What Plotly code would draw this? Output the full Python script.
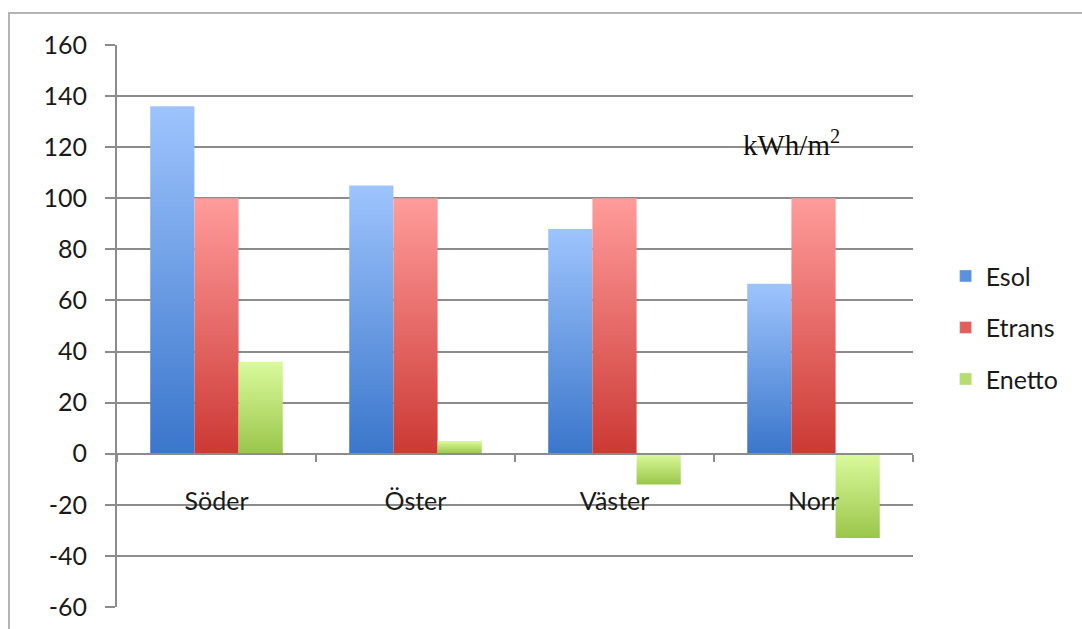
import plotly.graph_objects as go

# Energy balance per facade orientation (kWh/m2)
categories = ["Söder", "Öster", "Väster", "Norr"]
esol = [136, 105, 88, 66.5]
etrans = [100, 100, 100, 100]
enetto = [36, 5, -12, -33]
y_ticks = [-60, -40, -20, 0, 20, 40, 60, 80, 100, 120, 140, 160]

# name, values, bottom colour, top colour, legend colour
series = [
    ("Esol", esol, "#3a76cb", "#9ec4fd", "#5b90dd"),
    ("Etrans", etrans, "#cc3934", "#ff9c9b", "#e25f5c"),
    ("Enetto", enetto, "#9ac64a", "#dafa9c", "#b6dd6e"),
]

BAR_W = 0.222
GRID = "#8c8c8c"

fig = go.Figure()
for k, (name, vals, dark, light, mid) in enumerate(series):
    offset = (k - 1) * BAR_W
    for i, v in enumerate(vals):
        x0 = i + offset - BAR_W / 2
        x1 = i + offset + BAR_W / 2
        fig.add_trace(go.Scatter(
            x=[x0, x1, x1, x0, x0],
            y=[0, 0, v, v, 0],
            fill="toself",
            mode="lines",
            line=dict(width=0),
            fillgradient=dict(type="vertical", colorscale=[[0, dark], [1, light]]),
            showlegend=False,
            hoverinfo="skip",
            legendgroup=name,
        ))
    # legend entry for the series
    fig.add_trace(go.Bar(
        x=[None], y=[None], name=name, marker_color=mid,
        legendgroup=name, showlegend=True,
    ))

fig.update_layout(
    width=1082,
    height=629,
    autosize=False,
    margin=dict(l=117, r=169, t=45, b=22, autoexpand=False),
    paper_bgcolor="white",
    plot_bgcolor="white",
    font=dict(family="Lato", size=25, color="#1a1a1a"),
    showlegend=True,
    legend=dict(
        x=1.041, y=0.497, xanchor="left", yanchor="middle",
        font=dict(family="Lato", size=25, color="#1a1a1a"),
        tracegroupgap=16,
        bgcolor="rgba(0,0,0,0)",
    ),
    xaxis=dict(
        range=[-0.5, 3.5],
        tickmode="array",
        tickvals=list(range(len(categories))),
        ticktext=categories,
        ticks="",
        showgrid=False,
        zeroline=False,
        showline=True,
        linecolor=GRID,
        linewidth=2,
        anchor="free",
        position=60 / 220,
        ticklabelstandoff=25,
        automargin=False,
        minor=dict(
            tickmode="array",
            tickvals=[-0.5, 0.5, 1.5, 2.5, 3.5],
            ticks="outside",
            ticklen=7,
            tickwidth=2,
            tickcolor=GRID,
            showgrid=False,
        ),
        fixedrange=True,
    ),
    yaxis=dict(
        range=[-60, 160],
        tickmode="array",
        tickvals=y_ticks,
        ticktext=[str(v) for v in y_ticks],
        showgrid=True,
        gridcolor=GRID,
        gridwidth=2,
        zeroline=False,
        showline=True,
        linecolor=GRID,
        linewidth=2,
        ticks="outside",
        ticklen=10,
        tickwidth=2,
        tickcolor=GRID,
        ticklabelstandoff=13,
        automargin=False,
        fixedrange=True,
    ),
    annotations=[dict(
        text="kWh/m<sup>2</sup>",
        x=2.89, y=121.5, xref="x", yref="y",
        showarrow=False,
        font=dict(family="Liberation Serif", size=29, color="#111111"),
    )],
    shapes=[dict(
        type="rect", xref="paper", yref="paper",
        x0=-0.1357, x1=1.6, y0=-0.5, y1=1.0569,
        line=dict(color="#b4b4b4", width=2),
        layer="below",
    )],
)

fig.write_html("out.html")
